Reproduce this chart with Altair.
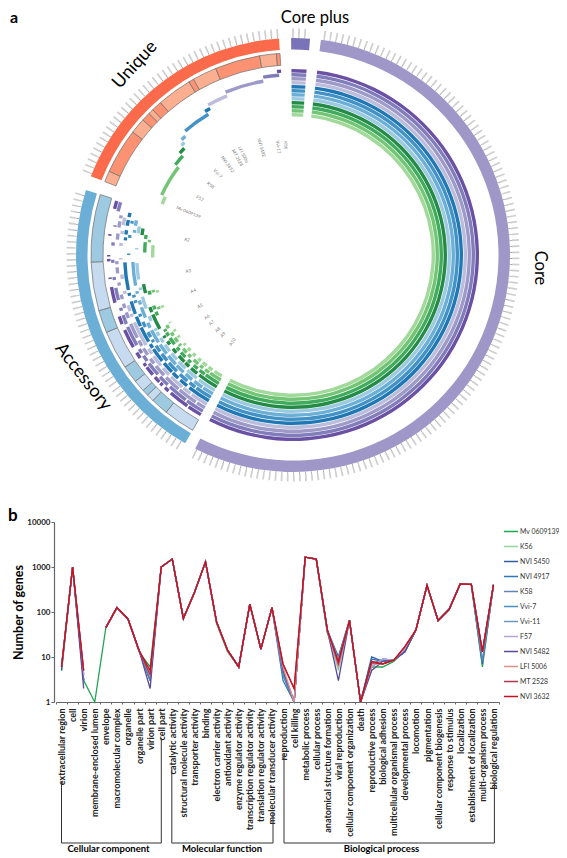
import altair as alt
import pandas as pd

FONT = "Lato"


def px(v):
    return v - 8


def py(v):
    return v - 8


# ---------- panel a: sectors (degrees clockwise from top) ----------
ring1 = [(7.4, 206.8, "#9f97c8"), (359.5, 364.5, "#7b73b9"),
         (209.8, 287.4, "#6baed6"), (291.3, 356.3, "#fb6a4a")]
unique_cuts = [291.3, 294.5, 307.5, 312, 314.5, 316, 319, 329, 330.5, 337.5, 350.5, 355.3, 356.3]
accessory_cuts = [209.8, 218.9, 223.9, 226.1, 227.9, 231.3, 236.3, 247.5, 254, 268, 287.4]
unique_cols = ["#fcae91", "#fc9272"]
accessory_cols = ["#c6dbef", "#9ecae1"]

track_cols = ["#6a51a3", "#807dba", "#9e9ac8", "#bcbddc",
              "#1f78b4", "#4292c6", "#6baed6", "#9ecae1",
              "#238b45", "#41ab5d", "#74c476", "#a1d99b"]
core_span = [(7.5, 206.8)]
plus_span = [(359.5, 364.2)]
unique_spans = [(355, 356.3), (350.5, 355.6), (337.5, 350.3), (330.5, 337.5), (328.5, 330.5), (319, 329),
                (316, 317.8), (314.5, 316), (312, 314.5), (307.5, 312), (294.5, 307.5), (291.3, 294.5)]
acc0 = [(210, 214.5), (215, 221.5), (222.5, 224), (225, 226), (226.5, 228.5), (229.5, 232.5), (233, 234), (236, 238), (240, 246), (248, 250.5), (255, 260), (262.5, 263), (268, 268.8), (269.5, 270), (276, 276.5), (284.5, 287)]
acc1 = [(210, 216), (216.5, 223), (224, 227.5), (228.5, 233), (234, 236), (237, 238.5), (240, 246.5), (247.5, 250.5), (252, 253), (255.5, 259.5), (262, 263), (267.5, 268.5), (273, 274), (279, 279.5), (284, 287)]
acc2 = [(210, 213), (213.5, 220), (220.5, 226), (227, 231), (232, 234), (235.5, 238), (239, 241), (242, 247), (249, 251), (252.5, 254), (255.5, 257), (260, 261), (264, 266), (267, 268), (275, 277), (279, 281), (282, 283)]
acc3 = [(210, 216), (216.5, 219.5), (220, 225), (226, 229), (230, 234), (235, 237), (238.5, 247), (249, 250), (251, 253), (257, 258), (262, 263.5), (268.5, 269), (273, 274), (277, 278), (280, 282.5)]
acc4 = [(210, 218), (219, 222), (223, 225.5), (226, 230), (231, 236), (236.5, 238), (239, 244.5), (245, 248.5), (249.5, 254), (256, 257), (258, 267.5), (275, 276), (277, 278.5), (280, 282), (283, 284.5)]
acc5 = [(210, 216), (216.5, 219), (220, 223.5), (225, 229), (230, 233), (234, 236.5), (238, 239), (240, 242), (244, 246), (248, 249), (253, 254), (255, 256), (270, 270.5), (276, 277), (281, 282)]
acc6 = [(210, 214), (214.5, 218), (219, 222), (223, 226.5), (227, 231), (232, 236), (237, 242), (243, 245), (247, 251), (252, 253.5), (256, 257), (259, 267.5), (278, 279), (280.5, 282.5)]
acc7 = [(210, 217), (218, 222.5), (223.5, 227), (228, 231), (232, 235), (236, 238), (239, 240.5), (241, 242), (245, 247), (250, 254.5), (257, 258), (261, 267), (272, 272.5), (278, 280.5)]
acc8 = [(210, 218), (219, 222), (223, 225), (225.5, 228.5), (230, 232), (234, 235.5), (237, 238), (241, 247), (248, 250), (255.5, 259), (277.5, 280)]
acc9 = [(210, 216), (216.5, 219), (220, 222), (223.5, 225), (226.5, 229), (230, 231.5), (233, 236), (237, 238.5), (239, 240), (246, 247.5), (248.5, 250), (254.5, 256), (271, 275), (276.2, 277.8)]
acc10 = [(210, 215), (215.5, 217.5), (218.5, 220), (221, 223.5), (225, 226.5), (227.5, 229.5), (231, 232), (233, 235), (236, 237.5), (239.5, 241), (248, 249), (255, 256), (275, 276)]
acc11 = [(210.5, 214), (215, 217), (218, 220), (221, 222.5), (224, 225.5), (227, 228.5), (230, 231), (234, 235), (237, 238), (241, 241.5), (248, 249), (254.5, 255.5), (269, 274)]
accessory_spans = [acc0, acc1, acc2, acc3, acc4, acc5, acc6, acc7, acc8, acc9, acc10, acc11]

tick_sectors = [(8.2, 206.5), (360, 364.5), (211, 287), (292, 356)]
TICK_STEP = 1.56

inner_names = ["K56", "Vvi-11", "NVI 5482", "LFI 5006", "MT 2528", "NVI 3632", "Vvi-7", "K58", "F57", "Mv 0609139",
               "A2", "A3", "A4", "A5", "A6", "A7", "A8", "A9", "A10"]
inner_angles = [356, 352, 343.4, 333.4, 330, 324, 317, 310, 301, 292,
                278, 261, 250, 241, 234, 230, 225, 221, 214.6]
inner_radii = [110, 109, 112, 112, 112, 112, 111, 108, 109, 113,
               107, 106, 106, 106, 106, 106, 106, 106, 106]

CX, CY = px(293), py(255)
R_MAX = 240
theta_scale = alt.Scale(domain=[0, 360], range=[0, 6.283185307])
radius_scale = alt.Scale(type="linear", domain=[0, R_MAX], range=[0, R_MAX])


def arc_layer(rows, **mark_kw):
    df = pd.DataFrame(rows, columns=["a0", "a1", "r0", "r1", "c"])
    return alt.Chart(df).mark_arc(**mark_kw).encode(
        theta=alt.Theta("a0:Q", scale=theta_scale, stack=None),
        theta2="a1:Q",
        radius=alt.Radius("r1:Q", scale=radius_scale),
        radius2="r0:Q",
        color=alt.Color("c:N", scale=None),
        x=alt.value(CX),
        y=alt.value(CY),
    )


ring_rows = [(a, b, 205.5, 217, c) for a, b, c in ring1]
ring2_rows = []
for cuts, cols in ((unique_cuts, unique_cols), (accessory_cuts, accessory_cols)):
    for i in range(len(cuts) - 1):
        ring2_rows.append((cuts[i], cuts[i + 1], 190, 202, cols[i % 2]))

track_rows = []
for t, col in enumerate(track_cols):
    r1 = 186 - 4 * t
    r0 = r1 - 3.4
    for a, b in core_span + plus_span + [unique_spans[t]] + accessory_spans[t]:
        track_rows.append((a, b, r0, r1, col))

tick_rows, tick_in_rows = [], []
for a, b in tick_sectors:
    v = a
    while v <= b:
        tick_rows.append((v - 0.22, v + 0.22, 219.5, 226.5, "#cfcfcf"))
        tick_in_rows.append((v - 0.08, v + 0.08, 217, 219.5, "#888888"))
        v += TICK_STEP

inner_df = pd.DataFrame({
    "name": inner_names,
    "a": inner_angles,
    "r": inner_radii,
    "rot": [(a + 90) % 360 for a in inner_angles],
})
inner_text = alt.Chart(inner_df).mark_text(fontSize=4.5, color="#777777", font=FONT).encode(
    theta=alt.Theta("a:Q", scale=theta_scale, stack=None),
    radius=alt.Radius("r:Q", scale=radius_scale),
    angle=alt.Angle("rot:Q", scale=None),
    text="name:N",
    x=alt.value(CX),
    y=alt.value(CY),
)


def note(text, x, y, size=17, angle=0, weight="normal", align="center"):
    return alt.Chart(pd.DataFrame({"t": [text]})).mark_text(
        fontSize=size, angle=angle, font=FONT, fontWeight=weight, color="black", baseline="middle", align=align
    ).encode(text="t:N", x=alt.value(x), y=alt.value(y))


big_labels = [
    note("Core plus", px(315), 10, 16.5),
    note("Unique", px(135), py(65), 18, 312),
    note("Core", px(540), py(268), 16.5, 90),
    note("Accessory", px(83), py(377), 18, 52),
    note("a", 2, 10, 16, weight="bold", align="left"),
    note("b", 0, py(516), 17, weight="bold", align="left"),
]

# ---------- panel b ----------
cellular = ["extracellular region", "cell", "virion", "membrane-enclosed lumen", "envelope",
            "macromolecular complex", "organelle", "organelle part", "virion part", "cell part"]
molecular = ["catalytic activity", "structural molecule activity", "transporter activity", "binding",
             "electron carrier activity", "antioxidant activity", "enzyme regulator activity",
             "transcription regulator activity", "translation regulator activity", "molecular transducer activity"]
biological = ["reproduction", "cell killing", "metabolic process", "cellular process",
              "anatomical structure formation", "viral reproduction", "cellular component organization", "death",
              "reproductive process", "biological adhesion", "multicellular organismal process",
              "developmental process", "locomotion", "pigmentation", "cellular component biogenesis",
              "response to stimulus", "localization", "establishment of localization",
              "multi-organism process", "biological regulation"]
categories = cellular + molecular + biological

base_values = [6, 1000, 5, None, 45, 125, 70, 14, 5, 1000,
               1500, 72, 270, 1300, 60, 14, 6, 150, 15, 125,
               7, 2, 1650, 1500, 40, 8, 65, 1, 8, 7,
               8.5, 17, 40, 390, 65, 115, 420, 410, 13, 400]
series_names = ["Mv 0609139", "K56", "NVI 5450", "NVI 4917", "K58", "Vvi-7", "Vvi-11", "F57",
                "NVI 5482", "LFI 5006", "MT 2528", "NVI 3632"]
series_cols = ["#1fa64f", "#8fd8a0", "#2b5f9e", "#2f77b8", "#5f85b5", "#4a8fbf", "#7095c5", "#b5a5d5",
               "#5b4a9a", "#e0908a", "#a83a50", "#c81020"]
series_changes = [
    {0: 5, 2: 3, 3: 1, 7: 13, 8: 6, 14: 55, 15: 13, 20: 5, 21: 1, 24: 36, 25: 6, 28: 6, 29: 6, 30: 8, 31: 14, 38: 6},
    {0: 5, 2: 3, 8: 4, 14: 55, 15: 13, 20: 4, 21: 1, 24: 35, 25: 5, 28: 5, 29: 8, 31: 13, 38: 7},
    {0: 5, 2: 3, 8: 3, 20: 4, 21: 1, 24: 35, 25: 10, 28: 10, 29: 8, 31: 13, 38: 7},
    {2: 3, 8: 3, 20: 3, 21: 1, 25: 10, 28: 9, 29: 8, 31: 13, 38: 8},
    {2: 3, 8: 3, 20: 4, 21: 1, 25: 7, 28: 7, 29: 9, 31: 14, 38: 8},
    {2: 4, 8: 4, 20: 4, 21: 1, 25: 7, 28: 6, 29: 9, 31: 14},
    {2: 4, 8: 4, 20: 5, 21: 1, 25: 9, 28: 6, 29: 9, 31: 14},
    {2: 4, 8: 4, 20: 5, 21: 1, 25: 6, 28: 6, 29: 9, 31: 15},
    {2: 2, 8: 2, 20: 5, 21: 1, 25: 3, 28: 5, 29: 8, 31: 13},
    {2: 5, 8: 4, 20: 6, 21: 1, 25: 6, 28: 7, 29: 7, 31: 16},
    {2: 5, 8: 4, 20: 7, 21: 2, 25: 7, 28: 7.5, 29: 7, 31: 17},
    {},
]

rows = []
for name, changes in zip(series_names, series_changes):
    for i, cat in enumerate(categories):
        rows.append({"cat": cat, "series": name, "genes": changes.get(i, base_values[i])})
line_df = pd.DataFrame(rows)

W, H = 551, 846
AX_LEFT, AX_RIGHT, AX_TOP, AX_BOTTOM = px(54), px(499), py(522), py(702)

lines = alt.Chart(line_df).mark_line(strokeWidth=1.3).encode(
    x=alt.X("cat:N", sort=categories, title=None,
            scale=alt.Scale(type="band", domain=categories, range=[px(56), AX_RIGHT]),
            axis=alt.Axis(labelAngle=-90, labelFontSize=9, labelFont=FONT, labelFontWeight="bold",
                          labelColor="#222222", labelLimit=200, labelOverlap=False, labelPadding=4,
                          tickBand="extent", tickSize=2, tickColor="#666666",
                          domainColor="#666666", domainWidth=1.2, grid=False, offset=AX_BOTTOM - H)),
    y=alt.Y("genes:Q", title="Number of genes",
            scale=alt.Scale(type="log", domain=[1, 10000], nice=False, range=[AX_BOTTOM, AX_TOP]),
            axis=alt.Axis(values=[1, 10, 100, 1000, 10000], format="d", grid=False, tickSize=3,
                          tickColor="#666666", domainColor="#666666", domainWidth=1.2,
                          labelFontSize=8, labelFont=FONT, labelFontWeight="bold", labelColor="#222222",
                          labelPadding=1, titleFontSize=12.5, titleFont=FONT, titleFontWeight="bold",
                          titleColor="black", titlePadding=1, offset=-AX_LEFT)),
    color=alt.Color("series:N", sort=series_names,
                    scale=alt.Scale(domain=series_names, range=series_cols),
                    legend=alt.Legend(title=None, orient="none", legendX=px(503), legendY=516,
                                      symbolType="stroke", symbolSize=196, symbolStrokeWidth=1.6,
                                      clipHeight=15, rowPadding=0, labelFontSize=6.9, labelFont=FONT,
                                      labelColor="#333333", labelOffset=1, padding=0, labelLimit=60)),
)

brackets = [
    (px(61.5), px(161.3), py(782), py(738)),
    (px(171.8), px(273), py(769), py(813)),
    (px(284), px(494.4), py(754), py(783)),
]
BRACKET_Y = py(843)
bracket_layers = []
for xl, xr, yl, yr in brackets:
    for spec in (dict(x=alt.value(xl), y=alt.value(yl), y2=alt.value(BRACKET_Y)),
                 dict(x=alt.value(xr), y=alt.value(yr), y2=alt.value(BRACKET_Y)),
                 dict(x=alt.value(xl), x2=alt.value(xr), y=alt.value(BRACKET_Y))):
        bracket_layers.append(alt.Chart(pd.DataFrame({"k": [0]})).mark_rule(color="#333333", strokeWidth=1).encode(**spec))

group_labels = [
    note("Cellular component", px(108.5), py(849), 9.5, weight="bold"),
    note("Molecular function", px(222), py(849), 9.5, weight="bold"),
    note("Biological process", px(381.5), py(849), 9.5, weight="bold"),
]

chart = alt.layer(
    arc_layer(tick_rows),
    arc_layer(tick_in_rows),
    arc_layer(ring_rows),
    arc_layer(ring2_rows, stroke="#6e6e6e", strokeWidth=0.7),
    arc_layer(track_rows),
    inner_text,
    *big_labels,
    lines,
    *bracket_layers,
    *group_labels,
).properties(width=W, height=H, padding=0, autosize=alt.AutoSizeParams(type="none")).configure_view(stroke=None)
chart.save("out.html", embed_options={"renderer": "svg", "actions": False})
